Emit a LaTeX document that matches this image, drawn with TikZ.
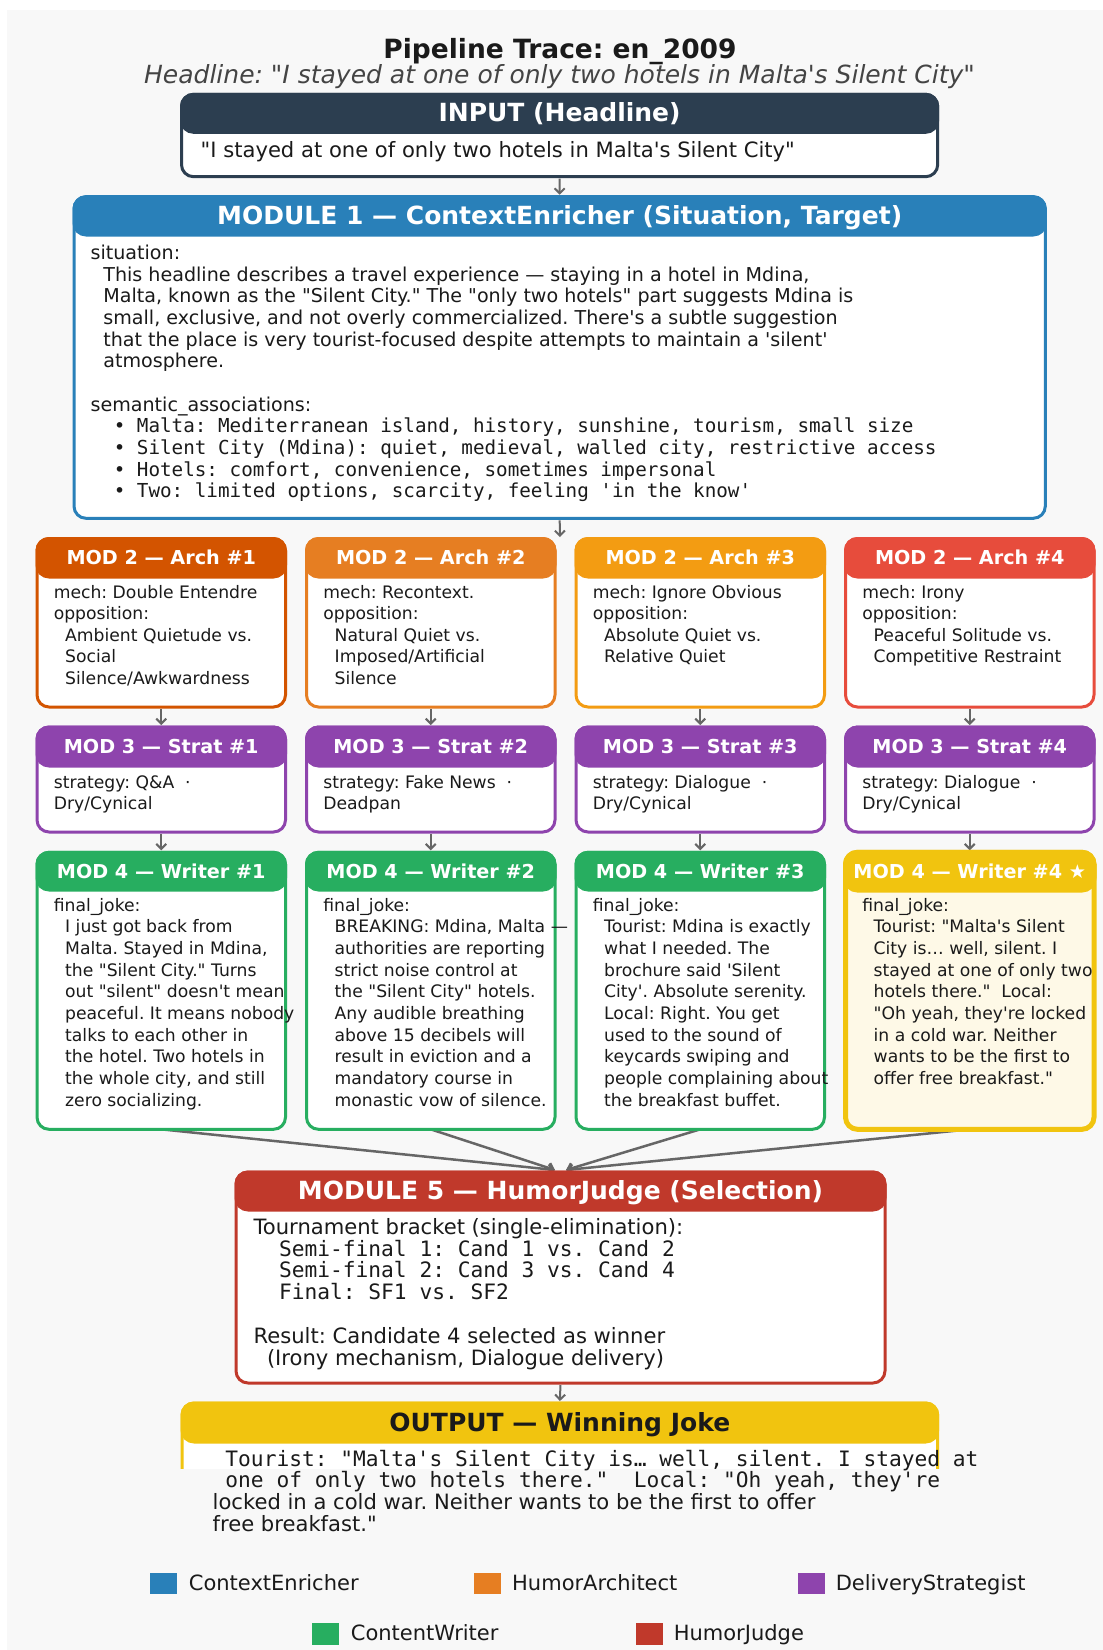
\documentclass[tikz,border=0pt]{standalone}
\usepackage{fontspec}
\setmainfont{DejaVu Sans}[Ligatures=TeXOff]
\newfontfamily\monof{DejaVu Sans Mono}[Ligatures=TeXOff]
\usetikzlibrary{arrows.meta}
\definecolor{txtc}{HTML}{1A1A1A}
\definecolor{subc}{HTML}{444444}
\definecolor{arrc}{HTML}{666666}
\definecolor{bgc}{HTML}{F8F8F8}
\definecolor{cInput}{HTML}{2C3E50}
\definecolor{cCtx}{HTML}{2980B9}
\definecolor{cA1}{HTML}{D35400}
\definecolor{cA2}{HTML}{E67E22}
\definecolor{cA3}{HTML}{F39C12}
\definecolor{cA4}{HTML}{E74C3C}
\definecolor{cStrat}{HTML}{8E44AD}
\definecolor{cWri}{HTML}{27AE60}
\definecolor{cStar}{HTML}{F1C40F}
\definecolor{cCream}{HTML}{FEF9E7}
\definecolor{cJudge}{HTML}{C0392B}
\pgfdeclarelayer{back}
\pgfdeclarelayer{bg}
\pgfsetlayers{back,bg,main}

% panel: name, x0, y0, x1, y1, header bottom, colour, body fill, extra
\newcommand\panel[9]{%
  \pgfmathsetmacro\pnw{#4-#2}%
  \pgfmathsetmacro\pnh{#5-#3}%
  \pgfmathsetmacro\phh{#6-#3}%
  \pgfmathsetmacro\pcx{(#2+#4)/2}%
  \pgfmathsetmacro\pcy{(#3+#5)/2}%
  \pgfmathsetmacro\phy{(#3+#6)/2}%
  \node[panelbody, draw=#7, fill=#8, minimum width=\pnw pt, minimum height=\pnh pt, #9] (#1) at (\pcx,\pcy) {};
  \node[panelhead, draw=#7, fill=#7, minimum width=\pnw pt, minimum height=\phh pt, #9] (#1h) at (\pcx,\phy) {};
}
% text lines: name, x, first baseline y, step, style, list
\newcommand\tlines[6]{%
  \foreach \tx [count=\ti] in {#6} {%
    \node[#5, anchor=base west, inner sep=0pt, outer sep=0pt] (#1-\ti) at ({#2}, {#3+(\ti-1)*#4}) {\tx};
  }%
}

\begin{document}
\frenchspacing
\begin{tikzpicture}[x=1pt,y=-1pt,
  panelbody/.style={rectangle, rounded corners=12pt, line width=3pt, inner sep=0pt, outer sep=0pt},
  panelhead/.style={rectangle, rounded corners=12pt, line width=3pt, inner sep=0pt, outer sep=0pt},
  hdsmall/.style={font=\bfseries\fontsize{19.2}{23}\selectfont, text=white, inner sep=0pt, anchor=base},
  hdbig/.style={font=\bfseries\fontsize{25}{30}\selectfont, text=white, inner sep=0pt, anchor=base},
  bodys/.style={font=\fontsize{17.2}{21}\selectfont, text=txtc},
  bodym/.style={font=\fontsize{19.1}{23}\selectfont, text=txtc},
  monom/.style={font=\monof\fontsize{19.25}{23}\selectfont, text=txtc},
  bodyl/.style={font=\fontsize{21.1}{25}\selectfont, text=txtc},
  monol/.style={font=\monof\fontsize{21.2}{25}\selectfont, text=txtc},
  legtext/.style={font=\fontsize{21}{25}\selectfont, text=txtc, anchor=base west, inner sep=0pt},
  legsq/.style={rectangle, minimum width=27.3pt, minimum height=21.6pt, inner sep=0pt},
  arr/.style={draw=arrc, line width=2pt, -{Straight Barb[length=5pt,width=10pt]}, shorten <=2pt, shorten >=2pt},
  conv/.style={draw=arrc, line width=2.5pt, -{Straight Barb[length=5pt,width=10pt]}}
]
\useasboundingbox (0,0) rectangle (1103,1650);
\begin{pgfonlayer}{back}
  \fill[white] (0,0) rectangle (1103,1650);
  \fill[bgc] (7,10) rectangle (1103,1650);
\end{pgfonlayer}

% title
\node[font=\bfseries\fontsize{26.5}{32}\selectfont, text=txtc, anchor=base, inner sep=0pt] (title) at (560,58.5) {Pipeline Trace: en\_2009};
\node[font=\itshape\fontsize{25}{30}\selectfont, text=subc, anchor=base, inner sep=0pt] (subtitle) at (559.5,83.5) {Headline: "I stayed at one of only two hotels in Malta's Silent City"};

% INPUT
\panel{inp}{181.5}{94.3}{937.7}{176.7}{132.3}{cInput}{white}{}
\node[hdbig] (inpt) at (559.6,121.5) {INPUT (Headline)};
\node[bodyl, anchor=base west, inner sep=0pt] (inpb) at (200.5,157.5) {"I stayed at one of only two hotels in Malta's Silent City"};

% MODULE 1
\panel{m1}{74}{196.7}{1045.3}{518.3}{235}{cCtx}{white}{}
\node[hdbig] (m1t) at (559.7,224.5) {MODULE 1 — ContextEnricher (Situation, Target)};
\tlines{m1s}{90.6}{259.5}{21.65}{bodym}{{situation:}}
\tlines{m1p}{103.4}{281.2}{21.65}{bodym}{{This headline describes a travel experience — staying in a hotel in Mdina,},{Malta, known as the "Silent City." The "only two hotels" part suggests Mdina is},{small, exclusive, and not overly commercialized. There's a subtle suggestion},{that the place is very tourist-focused despite attempts to maintain a 'silent'},{atmosphere.}}
\tlines{m1a}{90.6}{411.1}{21.65}{bodym}{{semantic\_associations:}}
\tlines{m1b}{90.6}{432.7}{21.65}{monom}{{~~•~Malta: Mediterranean island, history, sunshine, tourism, small size},{~~•~Silent City (Mdina): quiet, medieval, walled city, restrictive access},{~~•~Hotels: comfort, convenience, sometimes impersonal},{~~•~Two: limited options, scarcity, feeling 'in the know'}}

% MOD 2 row
\panel{a1}{37}{538.5}{285.5}{707}{577}{cA1}{white}{}
\panel{a2}{306.5}{538.5}{555}{707}{577}{cA2}{white}{}
\panel{a3}{576}{538.5}{824.5}{707}{577}{cA3}{white}{}
\panel{a4}{845.5}{538.5}{1094}{707}{577}{cA4}{white}{}
\node[hdsmall] (a1t) at (161.25,564.5) {MOD 2 — Arch \#1};
\node[hdsmall] (a2t) at (430.75,564.5) {MOD 2 — Arch \#2};
\node[hdsmall] (a3t) at (700.25,564.5) {MOD 2 — Arch \#3};
\node[hdsmall] (a4t) at (969.75,564.5) {MOD 2 — Arch \#4};
\tlines{a1a}{53.8}{598}{21.65}{bodys}{{mech: Double Entendre},{opposition:}}
\tlines{a1b}{65.2}{641.3}{21.65}{bodys}{{Ambient Quietude vs.},{Social},{Silence/Awkwardness}}
\tlines{a2a}{323.3}{598}{21.65}{bodys}{{mech: Recontext.},{opposition:}}
\tlines{a2b}{334.7}{641.3}{21.65}{bodys}{{Natural Quiet vs.},{Imposed/Artificial},{Silence}}
\tlines{a3a}{592.8}{598}{21.65}{bodys}{{mech: Ignore Obvious},{opposition:}}
\tlines{a3b}{604.2}{641.3}{21.65}{bodys}{{Absolute Quiet vs.},{Relative Quiet}}
\tlines{a4a}{862.3}{598}{21.65}{bodys}{{mech: Irony},{opposition:}}
\tlines{a4b}{873.7}{641.3}{21.65}{bodys}{{Peaceful Solitude vs.},{Competitive Restraint}}

% MOD 3 row
\panel{s1}{37}{727}{285.5}{832}{766}{cStrat}{white}{}
\panel{s2}{306.5}{727}{555}{832}{766}{cStrat}{white}{}
\panel{s3}{576}{727}{824.5}{832}{766}{cStrat}{white}{}
\panel{s4}{845.5}{727}{1094}{832}{766}{cStrat}{white}{}
\node[hdsmall] (s1t) at (161.25,753.2) {MOD 3 — Strat \#1};
\node[hdsmall] (s2t) at (430.75,753.2) {MOD 3 — Strat \#2};
\node[hdsmall] (s3t) at (700.25,753.2) {MOD 3 — Strat \#3};
\node[hdsmall] (s4t) at (969.75,753.2) {MOD 3 — Strat \#4};
\tlines{s1b}{53.8}{788.2}{21.65}{bodys}{{strategy: Q\&A~~·},{Dry/Cynical}}
\tlines{s2b}{323.3}{788.2}{21.65}{bodys}{{strategy: Fake News~~·},{Deadpan}}
\tlines{s3b}{592.8}{788.2}{21.65}{bodys}{{strategy: Dialogue~~·},{Dry/Cynical}}
\tlines{s4b}{862.3}{788.2}{21.65}{bodys}{{strategy: Dialogue~~·},{Dry/Cynical}}

% MOD 4 row
\panel{w1}{37}{852.3}{285.5}{1129.3}{890}{cWri}{white}{}
\panel{w2}{306.5}{852.3}{555}{1129.3}{890}{cWri}{white}{}
\panel{w3}{576}{852.3}{824.5}{1129.3}{890}{cWri}{white}{}
\panel{w4}{845.5}{852.3}{1094}{1129.3}{890}{cStar}{cCream}{line width=5pt}
\node[hdsmall] (w1t) at (161.25,878.2) {MOD 4 — Writer \#1};
\node[hdsmall] (w2t) at (430.75,878.2) {MOD 4 — Writer \#2};
\node[hdsmall] (w3t) at (700.25,878.2) {MOD 4 — Writer \#3};
\node[hdsmall] (w4t) at (969.75,878.2) {MOD 4 — Writer \#4 ★};
\tlines{w1a}{53.8}{911.2}{21.67}{bodys}{{final\_joke:}}
\tlines{w1b}{65.2}{932.9}{21.67}{bodys}{{I just got back from},{Malta. Stayed in Mdina,},{the "Silent City." Turns},{out "silent" doesn't mean},{peaceful. It means nobody},{talks to each other in},{the hotel. Two hotels in},{the whole city, and still},{zero socializing.}}
\tlines{w2a}{323.3}{911.2}{21.67}{bodys}{{final\_joke:}}
\tlines{w2b}{334.7}{932.9}{21.67}{bodys}{{BREAKING: Mdina, Malta —},{authorities are reporting},{strict noise control at},{the "Silent City" hotels.},{Any audible breathing},{above 15 decibels will},{result in eviction and a},{mandatory course in},{monastic vow of silence.}}
\tlines{w3a}{592.8}{911.2}{21.67}{bodys}{{final\_joke:}}
\tlines{w3b}{604.2}{932.9}{21.67}{bodys}{{Tourist: Mdina is exactly},{what I needed. The},{brochure said 'Silent},{City'. Absolute serenity.},{Local: Right. You get},{used to the sound of},{keycards swiping and},{people complaining about},{the breakfast buffet.}}
\tlines{w4a}{862.3}{911.2}{21.67}{bodys}{{final\_joke:}}
\tlines{w4b}{873.7}{932.9}{21.67}{bodys}{{Tourist: "Malta's Silent},{City is… well, silent. I},{stayed at one of only two},{hotels there."~~Local:},{"Oh yeah, they're locked},{in a cold war. Neither},{wants to be the first to},{offer free breakfast."}}

% MODULE 5
\panel{m5}{236}{1172}{885}{1383}{1210}{cJudge}{white}{}
\node[hdbig] (m5t) at (560.5,1199) {MODULE 5 — HumorJudge (Selection)};
\tlines{m5a}{253.6}{1234.3}{21.83}{bodyl}{{Tournament bracket (single-elimination):}}
\tlines{m5b}{253.6}{1256.1}{21.83}{monol}{{~~Semi-final 1: Cand 1 vs. Cand 2},{~~Semi-final 2: Cand 3 vs. Cand 4},{~~Final: SF1 vs. SF2}}
\tlines{m5c}{253.6}{1343.5}{21.83}{bodyl}{{Result: Candidate 4 selected as winner}}
\tlines{m5d}{267}{1365.3}{21.83}{bodyl}{{(Irony mechanism, Dialogue delivery)}}

% OUTPUT (body cut off)
\begin{scope}
  \clip (0,1395) rectangle (1103,1468);
  \panel{out}{182}{1403}{937.7}{1560}{1442}{cStar}{white}{}
\end{scope}
\node[hdbig, text=txtc] (outt) at (559.8,1431.2) {OUTPUT — Winning Joke};
\tlines{o1}{212.7}{1466}{21.8}{monol}{{~Tourist: "Malta's Silent City is… well, silent. I stayed at},{~one of only two hotels there."~~Local: "Oh yeah, they're}}
\tlines{o2}{212.7}{1509.6}{21.8}{bodyl}{{locked in a cold war. Neither wants to be the first to offer},{free breakfast."}}

% legend
\node[legsq, fill=cCtx] (lg1) at (163.65,1583.5) {};
\node[legtext] (lt1) at (188.7,1590) {ContextEnricher};
\node[legsq, fill=cA2] (lg2) at (487.75,1583.5) {};
\node[legtext] (lt2) at (512,1590) {HumorArchitect};
\node[legsq, fill=cStrat] (lg3) at (811.35,1583.5) {};
\node[legtext] (lt3) at (835.6,1590) {DeliveryStrategist};
\node[legsq, fill=cWri] (lg4) at (325.65,1634) {};
\node[legtext] (lt4) at (350.7,1640.7) {ContentWriter};
\node[legsq, fill=cJudge] (lg5) at (649.25,1634) {};
\node[legtext] (lt5) at (673.6,1640.7) {HumorJudge};

% connectors
\coordinate (c12) at (560,537);
\begin{pgfonlayer}{bg}
  \draw[arr] (inp.south) -- (m1h.north);
  \draw[arr, shorten >=0pt] (m1.south) -- (c12);
  \draw[arr] (a1.south) -- (s1h.north);
  \draw[arr] (a2.south) -- (s2h.north);
  \draw[arr] (a3.south) -- (s3h.north);
  \draw[arr] (a4.south) -- (s4h.north);
  \draw[arr] (s1.south) -- (w1h.north);
  \draw[arr] (s2.south) -- (w2h.north);
  \draw[arr] (s3.south) -- (w3h.north);
  \draw[arr] (s4.south) -- (w4h.north);
  \draw[conv] (w1.south) -- ([xshift=-5.5pt,yshift=2pt]m5h.north);
  \draw[conv] (w2.south) -- ([xshift=-5.5pt,yshift=2pt]m5h.north);
  \draw[conv] (w3.south) -- ([xshift=5.5pt,yshift=2pt]m5h.north);
  \draw[conv] (w4.south) -- ([xshift=5.5pt,yshift=2pt]m5h.north);
  \draw[arr] (m5.south) -- (outh.north);
\end{pgfonlayer}
\end{tikzpicture}
\end{document}
